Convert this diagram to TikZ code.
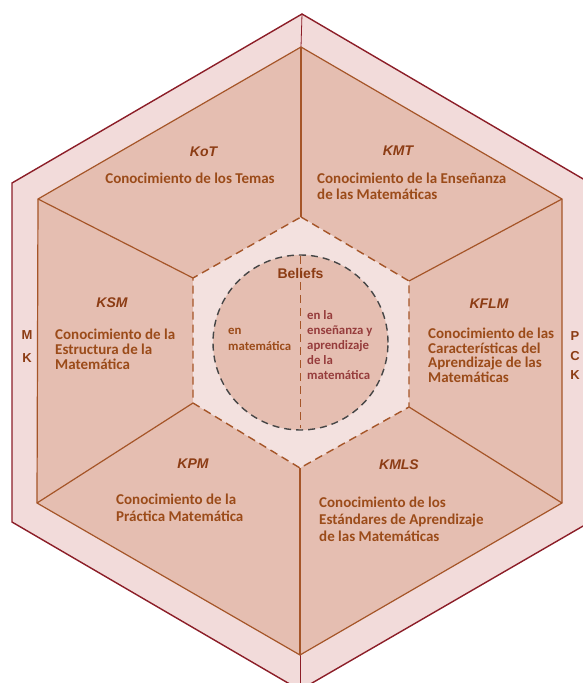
\documentclass[tikz,border=0pt]{standalone}
\usepackage{fontspec}
\setmainfont{Carlito}
\newfontfamily\arialf{Liberation Sans}
\definecolor{ringfill}{RGB}{242,219,218}
\definecolor{sectorfill}{RGB}{229,190,177}
\definecolor{corefill}{RGB}{243,225,223}
\definecolor{edgered}{RGB}{140,30,40}
\definecolor{linebrown}{RGB}{165,85,40}
\definecolor{txtbrown}{RGB}{155,75,25}
\definecolor{ttlbrown}{RGB}{140,60,20}
\definecolor{txtrose}{RGB}{150,60,60}
\definecolor{circgray}{RGB}{70,70,70}
\begin{document}
\begin{tikzpicture}[x=1pt,y=-1pt,
  titlestyle/.style={font=\arialf\bfseries\itshape\fontsize{14}{16}\selectfont, text=ttlbrown, inner sep=0pt},
  descstyle/.style={font=\bfseries\fontsize{15}{16}\selectfont, text=txtbrown, align=left, anchor=west, inner sep=0pt},
  circstyle/.style={font=\bfseries\fontsize{12.8}{15}\selectfont, align=left, anchor=west, inner sep=0pt},
  sidestyle/.style={font=\arialf\bfseries\fontsize{13}{15}\selectfont, text=ttlbrown, inner sep=0pt},
  outeredge/.style={draw=edgered, line width=1.4pt, line join=miter},
  sectoredge/.style={draw=linebrown, line width=1.2pt},
  coreedge/.style={draw=linebrown, line width=1.4pt, dash pattern=on 8pt off 5pt},
  circedge/.style={draw=circgray, line width=1.4pt, dash pattern=on 7pt off 5pt}
]
\useasboundingbox (0,0) rectangle (583,683);
\clip (0,0) rectangle (583,683);
\fill[white] (0,0) rectangle (583,683);
% outer hexagon
\coordinate (O1) at (302,14);
\coordinate (O2) at (590,183);
\coordinate (O3) at (590,522);
\coordinate (O4) at (300,690);
\coordinate (O5) at (12,522);
\coordinate (O6) at (12,183);
% inner big hexagon
\coordinate (I1) at (301,47);
\coordinate (I2) at (562,199);
\coordinate (I3) at (562,503);
\coordinate (I4) at (300,655);
\coordinate (I5) at (37,503);
\coordinate (I6) at (38,199);
% small core hexagon
\coordinate (S1) at (301,217);
\coordinate (S2) at (409,281);
\coordinate (S3) at (409,407);
\coordinate (S4) at (300,468);
\coordinate (S5) at (193,403);
\coordinate (S6) at (193,278);
\coordinate (C) at (300.5,342.5);
\coordinate (Ct) at (300.5,256);
\coordinate (Cb) at (300.5,428);

\path[fill=ringfill, outeredge] (O1) -- (O2) -- (O3) -- (O4) -- (O5) -- (O6) -- cycle;
\draw[draw=edgered, line width=0.8pt] (O1) -- (I1);
\draw[draw=edgered, line width=0.8pt] (O4) -- (I4);
\path[fill=sectorfill, sectoredge] (I1) -- (I2) -- (I3) -- (I4) -- (I5) -- (I6) -- cycle;
\draw[sectoredge] (I1) -- (S1);
\draw[sectoredge] (I2) -- (S2);
\draw[sectoredge] (I3) -- (S3);
\draw[sectoredge] (I4) -- (S4);
\draw[sectoredge] (I5) -- (S5);
\draw[sectoredge] (I6) -- (S6);
\fill[corefill] (S1) -- (S2) -- (S3) -- (S4) -- (S5) -- (S6) -- cycle;
\draw[coreedge] (S1) -- (S2) -- (S3) -- (S4) -- (S5) -- (S6) -- cycle;
\fill[sectorfill] (C) circle[radius=87.5pt];
\draw[circedge] (C) circle[radius=87.5pt];
\draw[draw=linebrown, line width=1.2pt, dash pattern=on 8pt off 5pt] (Ct) -- (Cb);

% titles
\node[titlestyle] (kot) at (203.5,152) {KoT};
\node[titlestyle] (kmt) at (398,151) {KMT};
\node[titlestyle] (ksm) at (112,303) {KSM};
\node[titlestyle] (kflm) at (489,304) {KFLM};
\node[titlestyle] (kpm) at (193,464) {KPM};
\node[titlestyle] (kmls) at (399,465) {KMLS};
% descriptions
\node[descstyle, anchor=center] (dkot) at (190,178) {Conocimiento de los Temas};
\node[descstyle, font=\bfseries\fontsize{15}{16.5}\selectfont] (dkmt) at (317,186.5) {Conocimiento de la Enseñanza\\de las Matemáticas};
\node[descstyle, font=\bfseries\fontsize{15}{15}\selectfont] (dksm) at (55,349) {Conocimiento de la\\Estructura de la\\Matemática};
\node[descstyle, font=\bfseries\fontsize{15}{14.5}\selectfont] (dkflm) at (428,355.5) {Conocimiento de las\\Características del\\Aprendizaje de las\\Matemáticas};
\node[descstyle, font=\bfseries\fontsize{15}{17.5}\selectfont] (dkpm) at (116,508) {Conocimiento de la\\Práctica Matemática};
\node[descstyle, font=\bfseries\fontsize{15}{17}\selectfont] (dkmls) at (319,519) {Conocimiento de los\\Estándares de Aprendizaje\\de las Matemáticas};
% core
\node[font=\arialf\bfseries\fontsize{14}{16}\selectfont, text=ttlbrown, inner sep=0pt] (beliefs) at (300.5,273) {Beliefs};
\node[circstyle, text=txtbrown, font=\bfseries\fontsize{12.8}{16}\selectfont] (enmat) at (228,339) {en\\matemática};
\node[circstyle, text=txtrose] (enla) at (307,345.5) {en la\\enseñanza y\\aprendizaje\\de la\\matemática};
% side labels
\node[sidestyle] (m1) at (27,335) {M};
\node[sidestyle] (k1) at (27,358) {K};
\node[sidestyle] (p2) at (575,336) {P};
\node[sidestyle] (c2) at (575,356) {C};
\node[sidestyle] (k2) at (575,375) {K};
\end{tikzpicture}
\end{document}
